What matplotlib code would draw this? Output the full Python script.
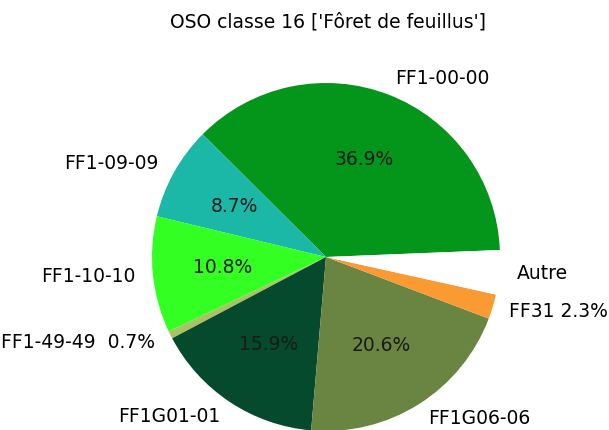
import matplotlib
matplotlib.use("Agg")
import matplotlib.pyplot as plt

labels = ["FF1-00-00", "FF1-09-09", "FF1-10-10", "FF1-49-49", "FF1G01-01", "FF1G06-06", "FF31", "Autre"]
values = [36.9, 8.7, 10.8, 0.7, 15.9, 20.6, 2.3, 4.1]
colors = ["#03961a", "#1bb8a8", "#33ff22", "#a9c266", "#054a2c", "#6a8541", "#f99a33", "#ffffff"]
small_threshold = 5.0

fig = plt.figure(figsize=(6.09, 4.30), dpi=100)
ax = fig.add_axes([152 / 609, (430 - 431) / 430, 348 / 609, 348 / 430])

total = sum(values)
disp_labels = []
for lab, v in zip(labels, values):
    pct = 100 * v / total
    if lab == "Autre":
        disp_labels.append(lab)
    elif pct < small_threshold:
        sep = "  " if lab == "FF1-49-49" else " "
        disp_labels.append(f"{lab}{sep}{pct:.1f}%")
    else:
        disp_labels.append(lab)

def autopct(p):
    return f"{p:.1f}%" if p >= small_threshold else ""

wedges, texts, autotexts = ax.pie(
    values, labels=disp_labels, colors=colors, startangle=2.3,
    autopct=autopct, pctdistance=0.6, labeldistance=1.1,
    textprops={"fontsize": 13.5},
)
for t in autotexts:
    t.set_color("#1a1a1a")
ax.set_xlim(-1, 1)
ax.set_ylim(-1, 1)
ax.set_aspect("equal")

fig.text(328 / 609, 1 - 22 / 430, "OSO classe 16 ['Fôret de feuillus']",
         ha="center", va="center", fontsize=13.5)

fig.savefig("out.png", dpi=100)
